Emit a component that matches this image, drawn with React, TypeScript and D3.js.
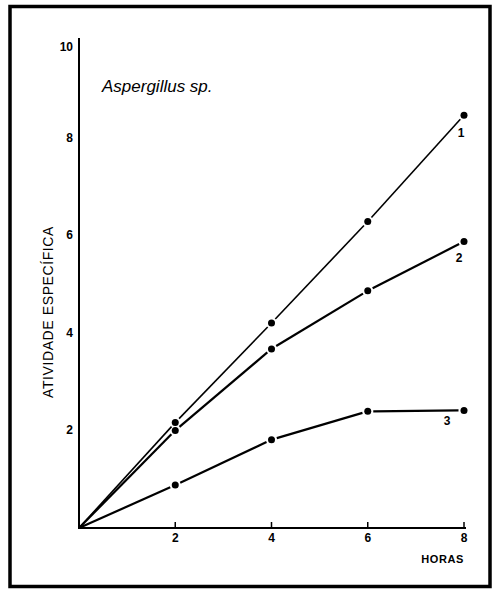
import React, { useEffect, useRef } from "react";
import * as d3 from "d3";

// hours on the x axis
const hours = [0, 2, 4, 6, 8];
// specific activity, one list per curve
const curve1 = [0, 2.16, 4.2, 6.28, 8.46];
const curve2 = [0, 2.0, 3.67, 4.86, 5.87];
const curve3 = [0, 0.88, 1.81, 2.39, 2.41];
const curveNames = ["1", "2", "3"];
const xTicks = [2, 4, 6, 8];
const yTicks = [2, 4, 6, 8, 10];

const W = 493;
const H = 589;
const FONT = "'Liberation Sans', Arial, Helvetica, sans-serif";

const App = () => {
  const ref = useRef<SVGSVGElement>(null);

  useEffect(() => {
    const svg = d3.select(ref.current);
    svg.selectAll("*").remove();

    const x = d3.scaleLinear().domain([0, 8]).range([79, 464]);
    const y = d3.scaleLinear().domain([0, 10]).range([528, 40]);

    // frame
    svg.append("rect")
      .attr("x", 10).attr("y", 6.5)
      .attr("width", 480).attr("height", 580)
      .attr("fill", "none").attr("stroke", "#000").attr("stroke-width", 3.5);

    // axes
    svg.append("line")
      .attr("x1", x(0)).attr("x2", x(0))
      .attr("y1", y(0) + 1).attr("y2", 38)
      .attr("stroke", "#000").attr("stroke-width", 2);
    svg.append("line")
      .attr("x1", x(0) - 1).attr("x2", x(8) + 2)
      .attr("y1", y(0)).attr("y2", y(0))
      .attr("stroke", "#000").attr("stroke-width", 2);

    svg.selectAll(".xtick")
      .data(xTicks).enter().append("line")
      .attr("x1", d => x(d)).attr("x2", d => x(d))
      .attr("y1", y(0)).attr("y2", y(0) - 6)
      .attr("stroke", "#000").attr("stroke-width", 1.5);

    svg.selectAll(".xlab")
      .data(xTicks).enter().append("text")
      .attr("x", d => x(d)).attr("y", y(0) + 14)
      .attr("text-anchor", "middle")
      .style("font", `bold 12px ${FONT}`)
      .text(d => d);

    svg.selectAll(".ylab")
      .data(yTicks).enter().append("text")
      .attr("x", 73).attr("y", d => y(d) + (d === 10 ? 11 : 4))
      .attr("text-anchor", "end")
      .style("font", `bold 12px ${FONT}`)
      .text(d => d);

    svg.append("text")
      .attr("x", x(8)).attr("y", 563)
      .attr("text-anchor", "end")
      .style("font", `bold 11px ${FONT}`)
      .style("letter-spacing", "0.6px")
      .text("HORAS");

    svg.append("text")
      .attr("transform", `translate(53,${312}) rotate(-90)`)
      .attr("text-anchor", "middle")
      .style("font", `14px ${FONT}`)
      .style("letter-spacing", "0.6px")
      .text("ATIVIDADE ESPECÍFICA");

    svg.append("text")
      .attr("x", 102).attr("y", 92)
      .style("font", `italic 17px ${FONT}`)
      .text("Aspergillus sp.");

    const series = [curve1, curve2, curve3];
    const widths = [1.6, 2.2, 2.2];
    const labelOffsets = [[-3, 22], [-5, 20], [-17, 15]];
    const gap = 5.5;

    series.forEach((vals, si) => {
      const pts = hours.map((h, i) => [x(h), y(vals[i])]);
      const g = svg.append("g");
      for (let i = 0; i < pts.length - 1; i++) {
        const [x0, y0] = pts[i];
        const [x1, y1] = pts[i + 1];
        const len = Math.hypot(x1 - x0, y1 - y0);
        const ux = (x1 - x0) / len, uy = (y1 - y0) / len;
        const s = i === 0 ? 0 : gap;
        g.append("line")
          .attr("x1", x0 + ux * s).attr("y1", y0 + uy * s)
          .attr("x2", x1 - ux * gap).attr("y2", y1 - uy * gap)
          .attr("stroke", "#000").attr("stroke-width", widths[si]);
      }
      g.selectAll("circle")
        .data(pts.slice(1)).enter().append("circle")
        .attr("cx", d => d[0]).attr("cy", d => d[1])
        .attr("r", 3.5).attr("fill", "#000");
      const last = pts[pts.length - 1];
      g.append("text")
        .attr("x", last[0] + labelOffsets[si][0])
        .attr("y", last[1] + labelOffsets[si][1])
        .attr("text-anchor", "middle")
        .style("font", `bold 12px ${FONT}`)
        .text(curveNames[si]);
    });
  }, []);

  return (
    <svg
      ref={ref}
      width={W}
      height={H}
      style={{ position: "absolute", left: 0, top: 0, background: "#fff" }}
    />
  );
};

export default App;
